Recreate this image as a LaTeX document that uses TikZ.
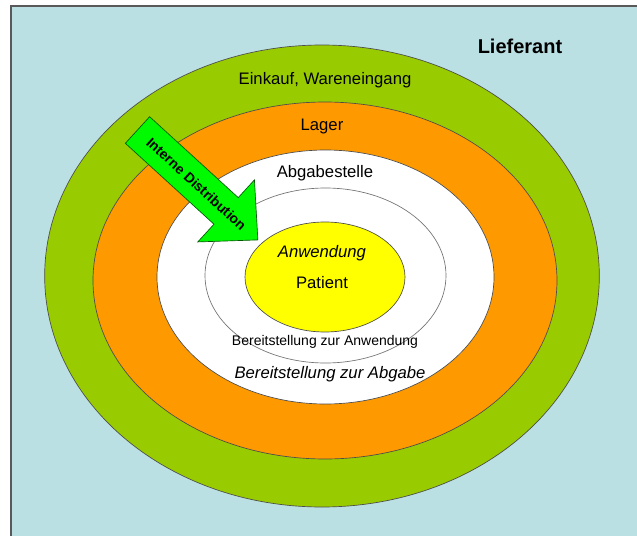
\documentclass[tikz,border=0pt]{standalone}
\usepackage{fontspec}
\setmainfont{Liberation Sans}
\usetikzlibrary{shapes.geometric}
\usetikzlibrary{positioning}

\definecolor{hintergrund}{RGB}{186,224,227}
\definecolor{einkaufgruen}{RGB}{153,204,0}
\definecolor{lagerorange}{RGB}{255,153,0}
\definecolor{pfeilgruen}{RGB}{0,250,0}
\definecolor{patientgelb}{RGB}{255,255,0}

\tikzset{
  ring/.style={ellipse, draw=black!70, line width=0.5pt, inner sep=0pt},
  beschriftung/.style={font=\fontsize{12.5}{15}\selectfont},
  klein/.style={font=\fontsize{10.5}{13}\selectfont},
  pfeil/.style={fill=pfeilgruen, draw=green!35!black, line width=0.5pt}
}

\begin{document}
\begin{tikzpicture}[x=0.75pt,y=-0.75pt]
            \useasboundingbox (0,0) rectangle (637,536);
            \fill[hintergrund] (11,6) rectangle (637,536);
            \draw[black!65, line width=1.1pt] (11,536) -- (11,6) -- (637,6);

            % Ringe von aussen nach innen
            \node[ring, fill=einkaufgruen, minimum width=416pt, minimum height=346.5pt] (einkauf) at (322,276) {};
            \node[ring, fill=lagerorange, minimum width=348pt, minimum height=267.75pt]   (lager) at (325,280.5) {};
            \node[ring, fill=white, minimum width=252.75pt, minimum height=190.5pt]       (abgabe) at (325.5,277) {};
            \node[ring, draw=black!55, minimum width=180.75pt, minimum height=131.25pt]   (bereit) at (325.5,275.5) {};
            \node[ring, fill=patientgelb, minimum width=120pt, minimum height=82.5pt]     (patient) at (325,277) {};

            % Beschriftungen
            \node[font=\bfseries\fontsize{15}{18}\selectfont] (lieferant) at (520,46) {Lieferant};
            \node[beschriftung] (t_einkauf)  at (325,80)  {Einkauf, Wareneingang};
            \node[beschriftung] (t_lager)    at (322,126) {Lager};
            \node[beschriftung] (t_abgabe)   at (325,173) {Abgabestelle};
            \node[beschriftung] (t_anwend)   at (322,253) {\itshape Anwendung};
            \node[beschriftung] (t_patient)  at (322,283) {Patient};
            \node[klein]        (t_bereit)   at (325,342) {Bereitstellung zur Anwendung};
            \node[beschriftung, font=\itshape\fontsize{12.5}{15}\selectfont] (t_bereitab) at (330,374) {Bereitstellung zur Abgabe};

            % Pfeil
            \begin{scope}[shift={(137.5,130)}, rotate=-42.4]
                \draw[pfeil] (0,-18) -- (120,-18) -- (120,-42) -- (163,0)
                    -- (120,42) -- (120,18) -- (0,18) -- cycle;
            \end{scope}
            \node[rotate=-42.4, inner sep=0pt, font=\bfseries\fontsize{10.5}{12}\selectfont] (verteilung) at (196.5,184) {Interne Distribution};
        \end{tikzpicture}
\end{document}
